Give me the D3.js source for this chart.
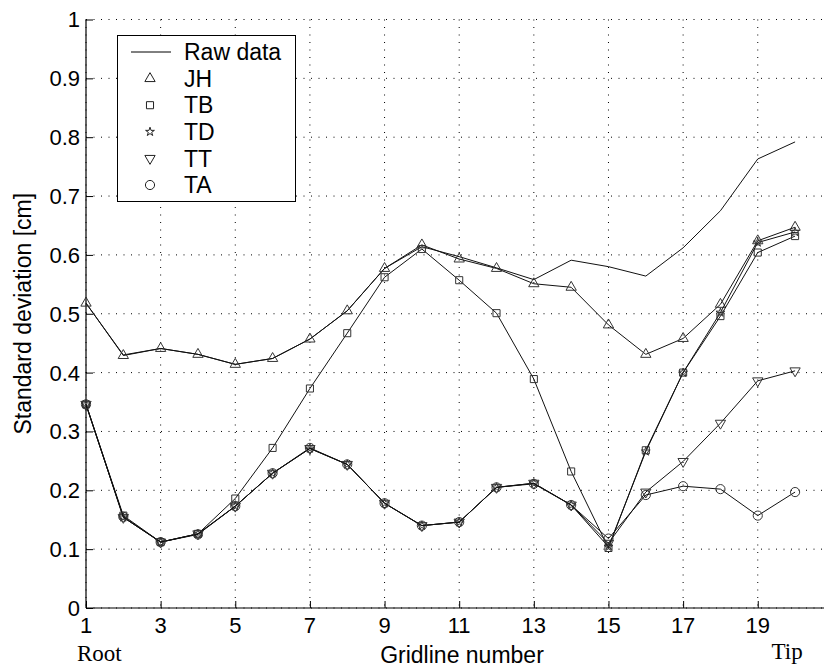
<!DOCTYPE html>
<html>
<head>
<meta charset="utf-8">
<script src="https://cdn.jsdelivr.net/npm/d3@7"></script>
<style>
body { margin:0; background:#fff; }
text { font-family: "Liberation Sans", Arial, Helvetica, sans-serif; }
</style>
</head>
<body>
<div id="chart"></div>
<script>
"use strict"

// gridline numbers along the blade
var gridlines = d3.range(1, 21);

var raw = [0.518,0.430,0.441,0.431,0.414,0.424,0.457,0.505,0.577,0.614,0.597,0.578,0.558,0.591,0.580,0.564,0.612,0.675,0.763,0.792];
var jh  = [0.518,0.429,0.441,0.431,0.414,0.424,0.457,0.505,0.577,0.617,0.593,0.577,0.551,0.545,0.481,0.431,0.458,0.516,0.624,0.647];
var tb  = [0.346,0.157,0.112,0.126,0.186,0.272,0.373,0.467,0.562,0.610,0.557,0.501,0.389,0.232,0.102,0.268,0.400,0.496,0.604,0.632];
var td  = [0.346,0.154,0.112,0.126,0.173,0.229,0.271,0.244,0.178,0.140,0.146,0.205,0.212,0.175,0.104,0.266,0.400,0.502,0.621,0.639];
var tt  = [0.346,0.154,0.112,0.126,0.173,0.229,0.271,0.244,0.178,0.140,0.146,0.205,0.212,0.175,0.110,0.197,0.249,0.314,0.386,0.403];
var ta  = [0.346,0.155,0.112,0.125,0.173,0.229,0.272,0.244,0.178,0.140,0.146,0.205,0.211,0.175,0.118,0.192,0.207,0.202,0.157,0.197];

var xticks = [1,3,5,7,9,11,13,15,17,19];
var yticks = [0,0.1,0.2,0.3,0.4,0.5,0.6,0.7,0.8,0.9,1];

var series = [
	{name:"Raw data", values:raw, marker:null},
	{name:"JH", values:jh, marker:"up"},
	{name:"TB", values:tb, marker:"square"},
	{name:"TD", values:td, marker:"star"},
	{name:"TT", values:tt, marker:"down"},
	{name:"TA", values:ta, marker:"circle"}
];

var width = 824, height = 667;
var pLeft = 86, pRight = 832.4, pTop = 19.5, pBottom = 608;

var svg = d3.select("#chart").append("svg")
	.attr("width", width)
	.attr("height", height);

var x = d3.scaleLinear().domain([1, 21]).range([pLeft, pRight]);
var y = d3.scaleLinear().domain([0, 1]).range([pBottom, pTop]);

// dotted grid
svg.append("g").selectAll("line").data(xticks).enter().append("line")
	.attr("x1", function(d){return x(d)}).attr("x2", function(d){return x(d)})
	.attr("y1", pTop).attr("y2", pBottom)
	.attr("stroke", "#000").attr("stroke-width", 1)
	.attr("stroke-dasharray", "1,6.5");
svg.append("g").selectAll("line").data(yticks).enter().append("line")
	.attr("x1", pLeft).attr("x2", width)
	.attr("y1", function(d){return y(d)}).attr("y2", function(d){return y(d)})
	.attr("stroke", "#000").attr("stroke-width", 1)
	.attr("stroke-dasharray", "1,6.5");

// axes (ticks point inward, no box)
var xAxis = d3.axisTop(x).tickValues(xticks).tickSize(7).tickFormat("");
svg.append("g").attr("transform", "translate(0," + pBottom + ")").call(xAxis)
	.call(function(g){ g.select(".domain").attr("d", "M" + pLeft + ",0H" + width).attr("stroke-width", 1.2); });
var yAxis = d3.axisRight(y).tickValues(yticks).tickSize(7).tickFormat("");
svg.append("g").attr("transform", "translate(" + pLeft + ",0)").call(yAxis)
	.call(function(g){ g.select(".domain").attr("d", "M0," + pTop + "V" + pBottom).attr("stroke-width", 1.2); });

svg.append("g").selectAll("text").data(xticks).enter().append("text")
	.attr("x", function(d){return x(d)}).attr("y", 633)
	.attr("text-anchor", "middle").attr("font-size", 22)
	.text(function(d){return d});
svg.append("g").selectAll("text").data(yticks).enter().append("text")
	.attr("x", 80).attr("y", function(d){return y(d)}).attr("dy", "0.36em")
	.attr("text-anchor", "end").attr("font-size", 22)
	.text(function(d){return d3.format("")(d)});

// labels
svg.append("text").attr("x", 462).attr("y", 663).attr("text-anchor", "middle")
	.attr("font-size", 23).text("Gridline number");
svg.append("text").attr("transform", "translate(31," + ((pTop + pBottom) / 2) + ") rotate(-90)")
	.attr("text-anchor", "middle").attr("font-size", 23).text("Standard deviation [cm]");
svg.append("text").attr("x", 77).attr("y", 661).attr("text-anchor", "start")
	.style("font-family", "'Liberation Serif', 'Times New Roman', serif").attr("font-size", 23).text("Root");
svg.append("text").attr("x", x(20)-8).attr("y", 659).attr("text-anchor", "middle")
	.style("font-family", "'Liberation Serif', 'Times New Roman', serif").attr("font-size", 23).text("Tip");

// markers
var symbolPath = function(m) {
	if (m == "up" || m == "down") return d3.symbol(d3.symbolTriangle, 46)();
	if (m == "square") return d3.symbol(d3.symbolSquare, 50)();
	if (m == "star") return d3.symbol(d3.symbolStar, 24)();
	return d3.symbol(d3.symbolCircle, 66)();
};
var markerTransform = function(m, px, py) {
	return "translate(" + px + "," + py + ")" + (m == "down" ? " rotate(180)" : "");
};

var line = d3.line()
	.x(function(d, i){return x(gridlines[i])})
	.y(function(d){return y(d)});

var plot = svg.append("g");
series.forEach(function(s) {
	plot.append("path").datum(s.values)
		.attr("d", line)
		.attr("fill", "none").attr("stroke", "#111").attr("stroke-width", 1);
	if (s.marker) {
		plot.append("g").selectAll("path").data(s.values).enter().append("path")
			.attr("d", symbolPath(s.marker))
			.attr("transform", function(d, j){return markerTransform(s.marker, x(gridlines[j]), y(d))})
			.attr("fill", "none").attr("stroke", "#333").attr("stroke-width", 1);
	}
});

// legend
var lg = svg.append("g");
lg.append("rect").attr("x", 117.5).attr("y", 35.5).attr("width", 178).attr("height", 166)
	.attr("fill", "#fff").attr("stroke", "#000").attr("stroke-width", 1);
series.forEach(function(s2, k) {
	var cy = 52 + k * 26.6;
	if (s2.marker) {
		lg.append("path").attr("d", symbolPath(s2.marker))
			.attr("transform", markerTransform(s2.marker, 150, cy))
			.attr("fill", "none").attr("stroke", "#222").attr("stroke-width", 1);
	} else {
		lg.append("line").attr("x1", 131).attr("x2", 171).attr("y1", cy).attr("y2", cy)
			.attr("stroke", "#000").attr("stroke-width", 1);
	}
	lg.append("text").attr("x", 184).attr("y", cy).attr("dy", "0.36em")
		.attr("font-size", 23).text(s2.name);
});
</script>
</body>
</html>
